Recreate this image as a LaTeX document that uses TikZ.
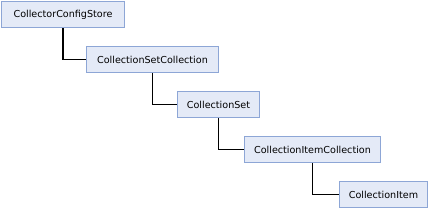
\documentclass[tikz,border=0pt]{standalone}
\usepackage{fontspec}
\setmainfont{DejaVu Sans}
\usepackage{tikz}
\usetikzlibrary{positioning}
\definecolor{cfgfill}{HTML}{E4EAF7}
\definecolor{cfgedge}{HTML}{8DA6D6}

\begin{document}
\begin{tikzpicture}[x=1pt,y=1pt,font=\fontsize{9.6}{11}\selectfont,
  cls/.style={draw=cfgedge,fill=cfgfill,line width=1pt,minimum height=26pt,anchor=north west,inner sep=0pt},
  link/.style={line width=1.6pt,color=black}]
  \useasboundingbox (0,0) rectangle (434,-209);
  \node[cls,minimum width=123pt] (store) at (1,-1) {CollectorConfigStore};
  \node[cls,minimum width=132pt] (setcoll) at (86,-46) {CollectionSetCollection};
  \node[cls,minimum width=82pt] (set) at (177,-91) {CollectionSet};
  \node[cls,minimum width=136pt] (itemcoll) at (244,-136) {CollectionItemCollection};
  \node[cls,minimum width=88pt] (item) at (339,-181) {CollectionItem};
  \draw[link] (store.south) |- (setcoll.west);
  \draw[link] (setcoll.south) |- (set.west);
  \draw[link] (set.south) |- (itemcoll.west);
  \draw[link] (itemcoll.south) |- (item.west);
\end{tikzpicture}
\end{document}
